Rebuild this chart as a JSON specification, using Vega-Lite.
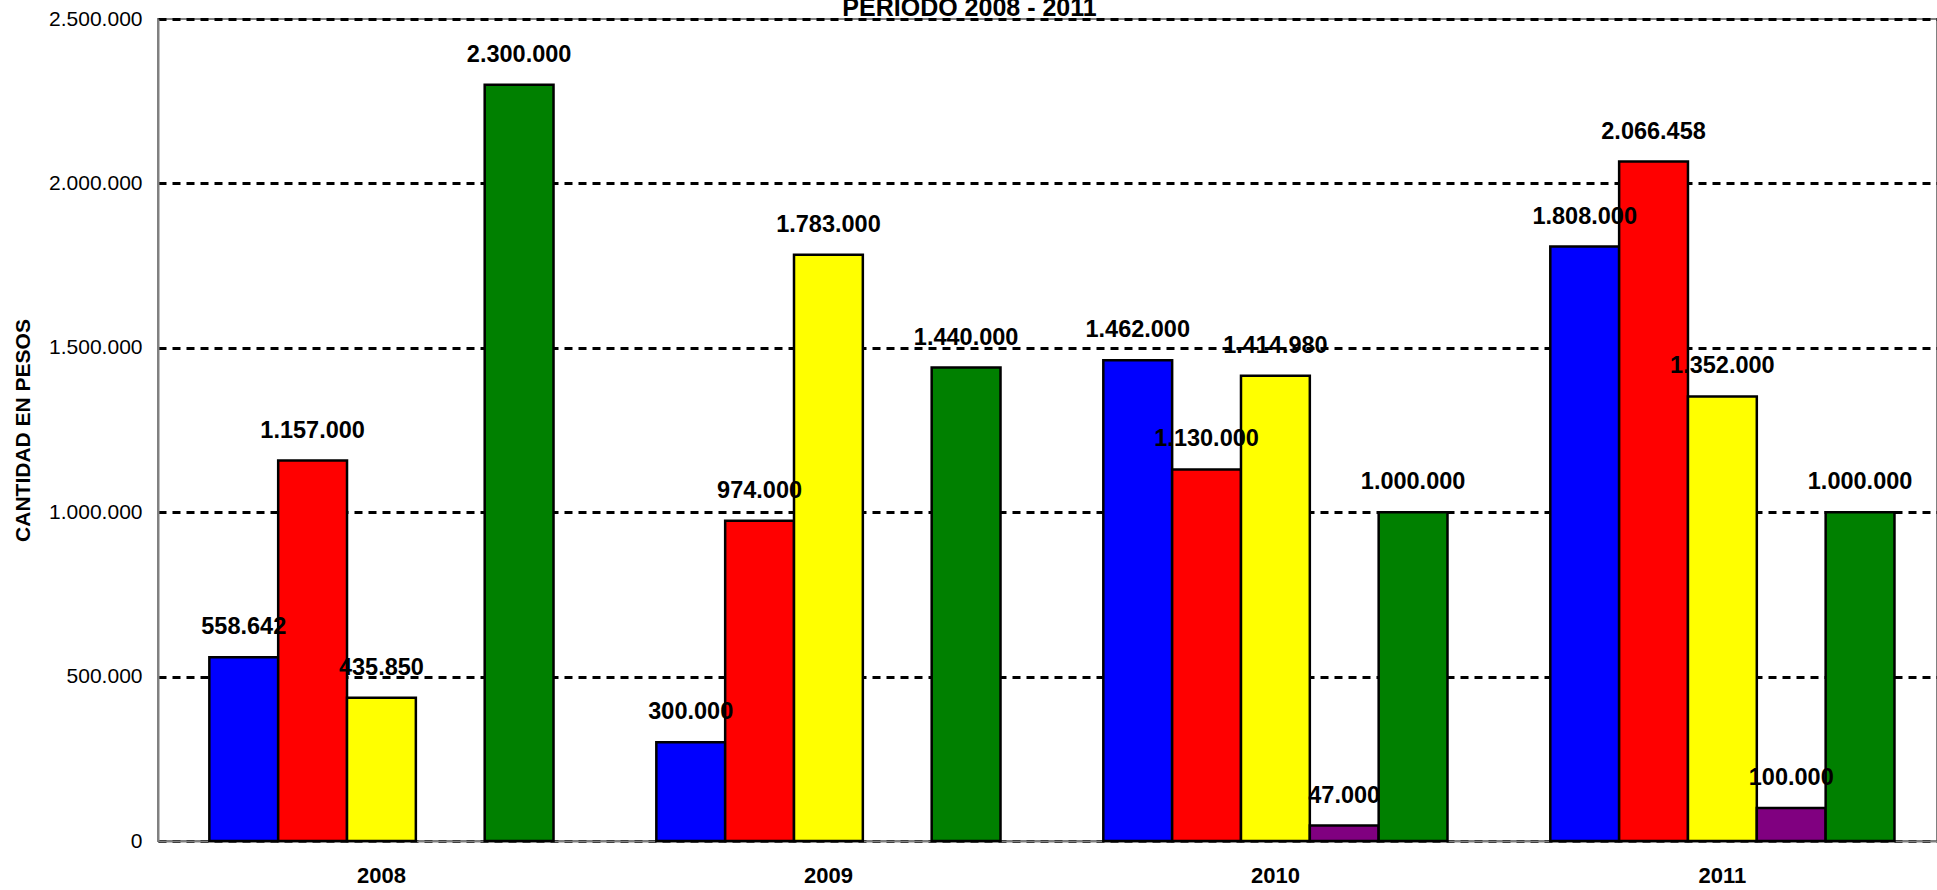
{
  "$schema": "https://vega.github.io/schema/vega-lite/v6.json",
  "width": 1779,
  "height": 822,
  "autosize": {"type": "none"},
  "padding": {"left": 158, "top": 19, "right": 0, "bottom": 49},
  "background": "white",
  "config": {
    "locale": {"number": {"decimal": ",", "thousands": ".", "grouping": [3], "currency": ["$", ""]}},
    "font": "Liberation Sans",
    "view": {"stroke": "#808080", "strokeWidth": 2}
  },
  "title": {
    "text": "PERIODO 2008 - 2011",
    "fontSize": 25,
    "fontWeight": "bold",
    "font": "Liberation Sans",
    "color": "black",
    "anchor": "middle",
    "frame": "group",
    "dx": -78,
    "offset": -33,
    "baseline": "alphabetic"
  },
  "data": {
    "values": [
      {"anio": "2008", "serie": "Serie 1", "valor": 558642},
      {"anio": "2008", "serie": "Serie 2", "valor": 1157000},
      {"anio": "2008", "serie": "Serie 3", "valor": 435850},
      {"anio": "2008", "serie": "Serie 5", "valor": 2300000},
      {"anio": "2009", "serie": "Serie 1", "valor": 300000},
      {"anio": "2009", "serie": "Serie 2", "valor": 974000},
      {"anio": "2009", "serie": "Serie 3", "valor": 1783000},
      {"anio": "2009", "serie": "Serie 5", "valor": 1440000},
      {"anio": "2010", "serie": "Serie 1", "valor": 1462000},
      {"anio": "2010", "serie": "Serie 2", "valor": 1130000},
      {"anio": "2010", "serie": "Serie 3", "valor": 1414980},
      {"anio": "2010", "serie": "Serie 4", "valor": 47000},
      {"anio": "2010", "serie": "Serie 5", "valor": 1000000},
      {"anio": "2011", "serie": "Serie 1", "valor": 1808000},
      {"anio": "2011", "serie": "Serie 2", "valor": 2066458},
      {"anio": "2011", "serie": "Serie 3", "valor": 1352000},
      {"anio": "2011", "serie": "Serie 4", "valor": 100000},
      {"anio": "2011", "serie": "Serie 5", "valor": 1000000}
    ]
  },
  "encoding": {
    "x": {
      "field": "anio",
      "type": "nominal",
      "scale": {"paddingInner": 0.23, "paddingOuter": 0.105, "align": 0.547},
      "axis": {
        "title": null,
        "labelAngle": 0,
        "labelFontSize": 22,
        "labelFontWeight": "bold",
        "labelColor": "black",
        "labelFont": "Liberation Sans",
        "labelBaseline": "top",
        "labelPadding": 24,
        "ticks": false,
        "domainColor": "#808080",
        "domainWidth": 2
      }
    },
    "xOffset": {
      "field": "serie",
      "type": "nominal",
      "scale": {"domain": ["Serie 1", "Serie 2", "Serie 3", "Serie 4", "Serie 5"], "paddingInner": 0, "paddingOuter": 0}
    },
    "y": {
      "field": "valor",
      "type": "quantitative",
      "scale": {"domain": [0, 2500000], "nice": false},
      "axis": {
        "values": [0, 500000, 1000000, 1500000, 2000000, 2500000],
        "format": ",d",
        "title": "CANTIDAD EN PESOS",
        "titleFontSize": 21,
        "titleFontWeight": "bold",
        "titleColor": "black",
        "titleFont": "Liberation Sans",
        "titleAngle": -90,
        "titleX": -135,
        "titleY": 411,
        "titleAlign": "center",
        "titleBaseline": "middle",
        "labelFontSize": 21,
        "labelColor": "black",
        "labelFont": "Liberation Sans",
        "labelPadding": 16,
        "ticks": false,
        "domainColor": "#808080",
        "domainWidth": 2,
        "grid": true,
        "gridColor": "black",
        "gridDash": [8, 6],
        "gridWidth": 3,
        "gridOpacity": 1
      }
    }
  },
  "layer": [
    {
      "mark": {"type": "bar", "stroke": "black", "strokeWidth": 2.5},
      "encoding": {
        "fill": {
          "field": "serie",
          "type": "nominal",
          "scale": {
            "domain": ["Serie 1", "Serie 2", "Serie 3", "Serie 4", "Serie 5"],
            "range": ["#0000FF", "#FF0000", "#FFFF00", "#800080", "#008000"]
          },
          "legend": null
        }
      }
    },
    {
      "mark": {"type": "text", "fontWeight": "bold", "fontSize": 23.5, "dy": -30, "baseline": "middle", "color": "black", "font": "Liberation Sans"},
      "encoding": {
        "text": {"field": "valor", "type": "quantitative", "format": ",d"}
      }
    }
  ]
}
